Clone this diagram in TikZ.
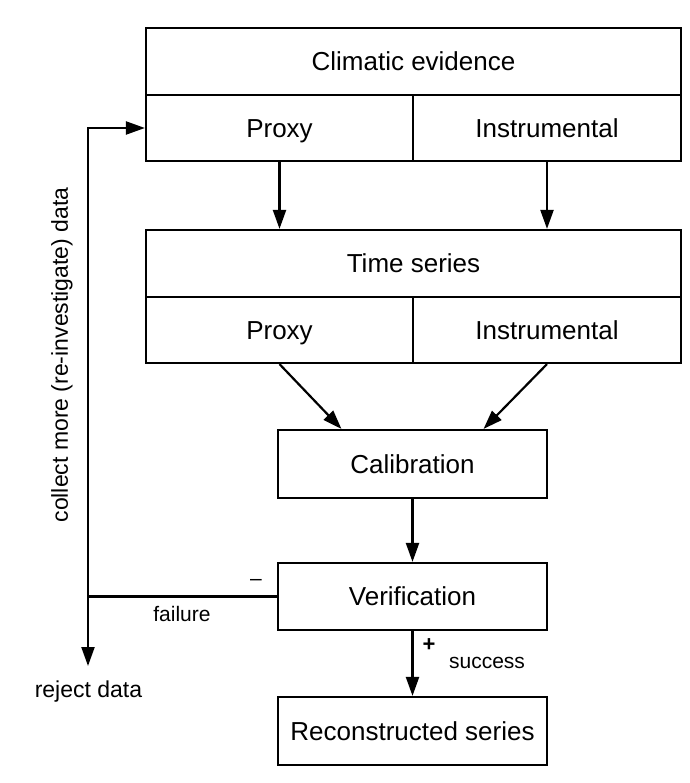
\documentclass[tikz,border=0pt]{standalone}
\usepackage{fontspec}
\setmainfont{Liberation Sans}
\usetikzlibrary{arrows.meta,calc}
\begin{document}
\begin{tikzpicture}[x=1pt,y=-1pt,
  box/.style={draw, line width=2.2pt, inner sep=0pt, text height=18.6pt, text depth=0pt, font=\fontsize{26}{30}\selectfont},
  conn/.style={line width=2.2pt, -{Triangle[length=19pt,width=13pt]}},
  plain/.style={line width=2.2pt},
  small/.style={font=\fontsize{21}{25}\selectfont, inner sep=0pt},
  mid/.style={font=\fontsize{23}{27}\selectfont, inner sep=0pt}]
\useasboundingbox (0,0) rectangle (689,783);
% top box
\node[box, minimum width=535pt, minimum height=67pt] (ce) at (413.5,61.5) {Climatic evidence};
\node[box, minimum width=267pt, minimum height=66pt] (ceP) at (279.5,128) {Proxy};
\node[box, minimum width=268pt, minimum height=66pt] (ceI) at (547,128) {Instrumental};
% time series box
\node[box, minimum width=535pt, minimum height=67pt] (ts) at (413.5,263.5) {Time series};
\node[box, minimum width=267pt, minimum height=66pt] (tsP) at (279.5,330) {Proxy};
\node[box, minimum width=268pt, minimum height=66pt] (tsI) at (547,330) {Instrumental};
% chain
\node[box, minimum width=269pt, minimum height=68pt] (cal) at (412.5,464) {Calibration};
\node[box, minimum width=269pt, minimum height=67pt] (ver) at (412.5,596.5) {Verification};
\node[box, minimum width=269pt, minimum height=68pt] (rec) at (412.5,731) {Reconstructed series};
% arrows
\draw[conn] (ceP.south) -- (ceP.south |- ts.north);
\draw[conn] (ceI.south) -- (ceI.south |- ts.north);
\draw[conn] (tsP.south) -- ($(cal.north west)!0.238!(cal.north east)$);
\draw[conn] (tsI.south) -- ($(cal.north west)!0.762!(cal.north east)$);
\draw[conn] (cal.south) -- (ver.north);
\draw[conn] (ver.south) -- (rec.north);
% feedback
\coordinate (fj) at (88,596.5);
\coordinate (ftop) at (88,128);
\coordinate (rj) at (88,666);
\draw[plain] (ver.west) -- (fj);
\draw[conn] (fj) -- (rj);
\draw[conn] (fj) -- (ftop) -- (ceP.west);
% labels
\node[small] (minus) at (256,582) {–};
\node[small] (fail) at (182,614) {failure};
\node[small, font=\bfseries\fontsize{22}{26}\selectfont] (plus) at (429,645) {+};
\node[small] (succ) at (487,663) {success};
\node[mid] (rej) at (88.5,692) {reject data};
\node[mid, rotate=90] (coll) at (62,355) {collect more (re-investigate) data};
\end{tikzpicture}
\end{document}
